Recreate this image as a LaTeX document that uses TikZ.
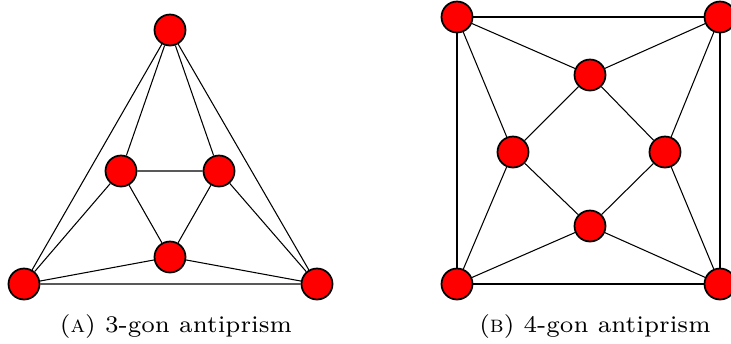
\documentclass[tikz,border=0pt]{standalone}
\tikzset{
  vtx/.style={circle, draw=black, fill=red, line width=1pt, minimum size=0.62cm, inner sep=0pt},
  edge/.style={line width=0.6pt},
  subcap/.style={font=\fontsize{7}{8}\selectfont, scale=1.94, anchor=base}
}
\begin{document}
\begin{tikzpicture}[x=0.02cm,y=-0.02cm]
  \useasboundingbox (0,0) rectangle (731,343);
  % (A) 3-gon antiprism
  \node[vtx] (t1) at (170,30) {};
  \node[vtx] (t2) at (24,284) {};
  \node[vtx] (t3) at (317,284) {};
  \node[vtx] (s1) at (121,171) {};
  \node[vtx] (s2) at (219,171) {};
  \node[vtx] (s3) at (170,257) {};
  \draw[edge] (t1) -- (t2) -- (t3) -- (t1);
  \draw[edge] (s1) -- (s2) -- (s3) -- (s1);
  \draw[edge] (t1) -- (s1);
  \draw[edge] (t1) -- (s2);
  \draw[edge] (t2) -- (s1);
  \draw[edge] (t2) -- (s3);
  \draw[edge] (t3) -- (s2);
  \draw[edge] (t3) -- (s3);
  \node[subcap] (capa) at (176,332) {(\textsc{a}) 3-gon antiprism};

  % (B) 4-gon antiprism
  \node[vtx] (q1) at (457,17) {};
  \node[vtx] (q2) at (720,17) {};
  \node[vtx] (q3) at (720,284) {};
  \node[vtx] (q4) at (457,284) {};
  \node[vtx] (p1) at (590,75) {};
  \node[vtx] (p2) at (665,152) {};
  \node[vtx] (p3) at (590,226) {};
  \node[vtx] (p4) at (513,152) {};
  \draw[edge] (q1) -- (q2) -- (q3) -- (q4) -- (q1);
  \draw[edge] (p1) -- (p2) -- (p3) -- (p4) -- (p1);
  \draw[edge] (q1) -- (p1);
  \draw[edge] (q1) -- (p4);
  \draw[edge] (q2) -- (p1);
  \draw[edge] (q2) -- (p2);
  \draw[edge] (q3) -- (p2);
  \draw[edge] (q3) -- (p3);
  \draw[edge] (q4) -- (p3);
  \draw[edge] (q4) -- (p4);
  \node[subcap] (capb) at (595,332) {(\textsc{b}) 4-gon antiprism};
\end{tikzpicture}
\end{document}
